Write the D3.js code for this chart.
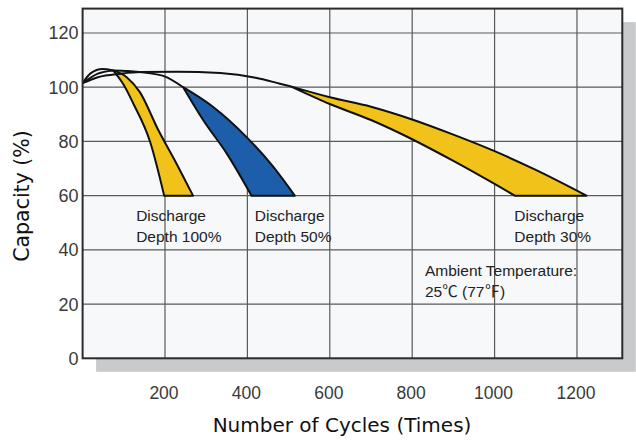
<!DOCTYPE html>
<html><head><meta charset="utf-8">
<script src="https://cdn.jsdelivr.net/npm/d3@7/dist/d3.min.js"></script>
<style>body{margin:0;background:#fff}svg{display:block}</style>
</head><body><svg id="c" width="636" height="440"></svg>
<script>
// ---- data ----
const xTicks = [200, 400, 600, 800, 1000, 1200];
const yTicks = [0, 20, 40, 60, 80, 100, 120];
const xTitle = "Number of Cycles (Times)";
const yTitle = "Capacity (%)";

// lead-in curves from the start point (cycles, capacity %)
const leadPeak = [[0,101.5],[20,105.2],[48,106.7],[74,106.2]];
const leadMid  = [[0,101.5],[37,105],[74,106.2]];
const lead50   = [[74,106.2],[110,106],[150,105.4],[199,104],[244,100]];
const lead30   = [[0,101.5],[37,103.7],[93,105],[140,105.6],[230,105.7],[334,105.2],[420,103.5],[479,101.3],[505,100.3]];

// Discharge depth 100%
const d100Left  = [[74,106.2],[100,100.8],[123,94],[164,79.8],[198,60]];
const d100Right = [[74,106.2],[107,103.7],[139,98.2],[184,84.1],[228,71.8],[268,60]];
// Discharge depth 50%
const d50Left  = [[244,100],[293,87.8],[350,75.5],[410,60]];
const d50Right = [[244,100],[317,92.7],[398,81.6],[463,70.6],[515,60]];
// Discharge depth 30%
const d30Lower = [[505,100.3],[600,93.8],[700,87.9],[800,80.8],[900,72.8],[1000,64.3],[1049,60]];
const d30Upper = [[505,100.3],[600,96.3],[700,92.8],[800,88.1],[900,82.5],[1000,76.4],[1100,69.5],[1223,60]];

const regionColors = ["#f1c31a", "#1d5eab", "#f1c31a"];
const labelLines = [["Discharge","Depth 100%"],["Discharge","Depth 50%"],["Discharge","Depth 30%"]];
const labelPos = [[130,50.5],[418,50.5],[1048,50.5]];
const noteLines = ["Ambient Temperature:", "25\u2103  (77\u2109)"];
const notePos = [831, 30.5];

// ---- chart ----
const svg = d3.select("#c");
const x = d3.scaleLinear().domain([0,1310]).range([82.6,622.3]);
const y = d3.scaleLinear().domain([0,129]).range([358.3,8.6]);
const X0 = x(0), X1 = x(1310), Y0 = y(0), Y1 = y(129);

// shadow
svg.append("rect").attr("x",X0+13.5).attr("y",Y1+13.5).attr("width",X1-X0).attr("height",Y0-Y1).attr("fill","#c9cacc");
// plot bg
svg.append("rect").attr("x",X0).attr("y",Y1).attr("width",X1-X0).attr("height",Y0-Y1).attr("fill","#f7f8fa");

// grid
svg.append("g").selectAll("line").data(xTicks).join("line")
  .attr("x1",d=>x(d)).attr("x2",d=>x(d)).attr("y1",Y1).attr("y2",Y0)
  .attr("stroke","#5a5a5a").attr("stroke-width",1.2);
svg.append("g").selectAll("line").data(yTicks.filter(d=>d>0)).join("line")
  .attr("x1",X0).attr("x2",X1).attr("y1",d=>y(d)).attr("y2",d=>y(d))
  .attr("stroke","#5a5a5a").attr("stroke-width",1.2);

const line = d3.line().x(d=>x(d[0])).y(d=>y(d[1])).curve(d3.curveMonotoneX);
function region(a,b){
  const l = line(a);
  const r = line(b.slice().reverse());
  return l + r.replace(/^M/,"L") + "Z";
}
const regions = [[d100Left,d100Right],[d50Left,d50Right],[d30Lower,d30Upper]];
svg.append("g").selectAll("path").data(regions).join("path")
  .attr("d",(d)=>region(d[0],d[1]))
  .attr("fill",(d,i)=>regionColors[i])
  .attr("stroke","#111").attr("stroke-width",2).attr("stroke-linejoin","round");

const curves = [leadPeak, leadMid, lead50, lead30];
svg.append("g").selectAll("path").data(curves).join("path")
  .attr("d",line).attr("fill","none").attr("stroke","#111").attr("stroke-width",2);

// border
svg.append("rect").attr("x",X0).attr("y",Y1).attr("width",X1-X0).attr("height",Y0-Y1)
  .attr("fill","none").attr("stroke","#2b2b2b").attr("stroke-width",2);

// tick labels
svg.append("g").selectAll("text").data(yTicks).join("text")
  .attr("x",X0-4).attr("y",d=>y(d)).attr("dy","0.36em").attr("text-anchor","end")
  .attr("font-family","Liberation Sans, Arial, sans-serif").attr("font-size",18).attr("fill","#3a3a3a")
  .text(d=>d);
svg.append("g").selectAll("text").data(xTicks).join("text")
  .attr("x",d=>x(d)-1).attr("y",Y0+41).attr("text-anchor","middle")
  .attr("font-family","Liberation Sans, Arial, sans-serif").attr("font-size",17.5).attr("fill","#3a3a3a")
  .text(d=>d);

// titles
svg.append("text").attr("x",342).attr("y",432).attr("text-anchor","middle")
  .attr("font-family","DejaVu Sans, sans-serif").attr("font-size",20).attr("fill","#111").text(xTitle);
svg.append("text").attr("transform","translate(29,196) rotate(-90)").attr("text-anchor","middle")
  .attr("font-family","DejaVu Sans, sans-serif").attr("font-size",20.5).attr("fill","#111").text(yTitle);

// annotations
const ann = svg.append("g").attr("font-family","Liberation Sans, Arial, sans-serif").attr("font-size",15.5).attr("fill","#222");
labelLines.forEach((ls,i)=>{
  ls.forEach((t,j)=>{
    ann.append("text").attr("x",x(labelPos[i][0])).attr("y",y(labelPos[i][1])+j*21).text(t);
  });
});
noteLines.forEach((t,j)=>{
  ann.append("text").attr("x",x(notePos[0])).attr("y",y(notePos[1])+j*21.5)
    .attr("font-family","Liberation Sans, 'Noto Sans CJK SC', sans-serif").text(t);
});
</script></body></html>
